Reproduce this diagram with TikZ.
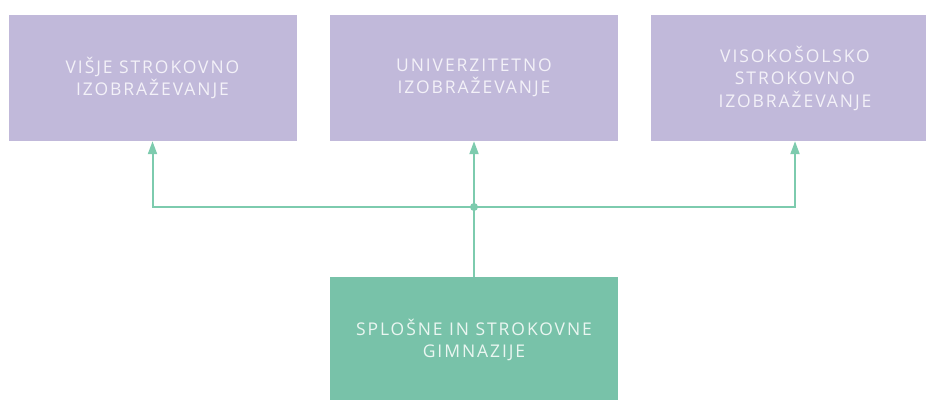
\documentclass[tikz,border=0pt]{standalone}
\usepackage{fontspec}
\setmainfont{Open Sans}[LetterSpace=11]
\usetikzlibrary{arrows.meta}
\definecolor{lav}{HTML}{C1B9DA}
\definecolor{grn}{HTML}{78C2A9}
\definecolor{conn}{HTML}{7DCBAE}
\definecolor{lavtext}{HTML}{F3F1F8}
\definecolor{grntext}{HTML}{EAF6F1}
\begin{document}
\begin{tikzpicture}[x=1pt,y=-1pt,
  box/.style={minimum width=288pt,minimum height=126pt,inner sep=0pt,align=center,
    font=\fontsize{17.5}{22.5}\selectfont},
  upper/.style={box,fill=lav,text=lavtext},
  lower/.style={box,fill=grn,text=grntext},
  conline/.style={draw=conn,line width=2pt},
  arr/.style={conline,-{Triangle[length=13pt,width=9pt]}}]
\useasboundingbox (0,0) rectangle (926,399);
\node[upper] (a) at (152.5,78) {VIŠJE STROKOVNO\\IZOBRAŽEVANJE};
\node[upper] (b) at (474,78) {UNIVERZITETNO\\IZOBRAŽEVANJE};
\node[upper] (c) at (795,78) {VISOKOŠOLSKO\\STROKOVNO\\IZOBRAŽEVANJE};
\node[lower] (d) at (474,340) {SPLOŠNE IN STROKOVNE\\GIMNAZIJE};
\coordinate (j) at (474,207);
\draw[conline] (d.north) -- (j);
\draw[arr] (j) -| (a.south);
\draw[arr] (j) -- (b.south);
\draw[arr] (j) -| (c.south);
\fill[conn] (j) circle (4pt);
\end{tikzpicture}
\end{document}
